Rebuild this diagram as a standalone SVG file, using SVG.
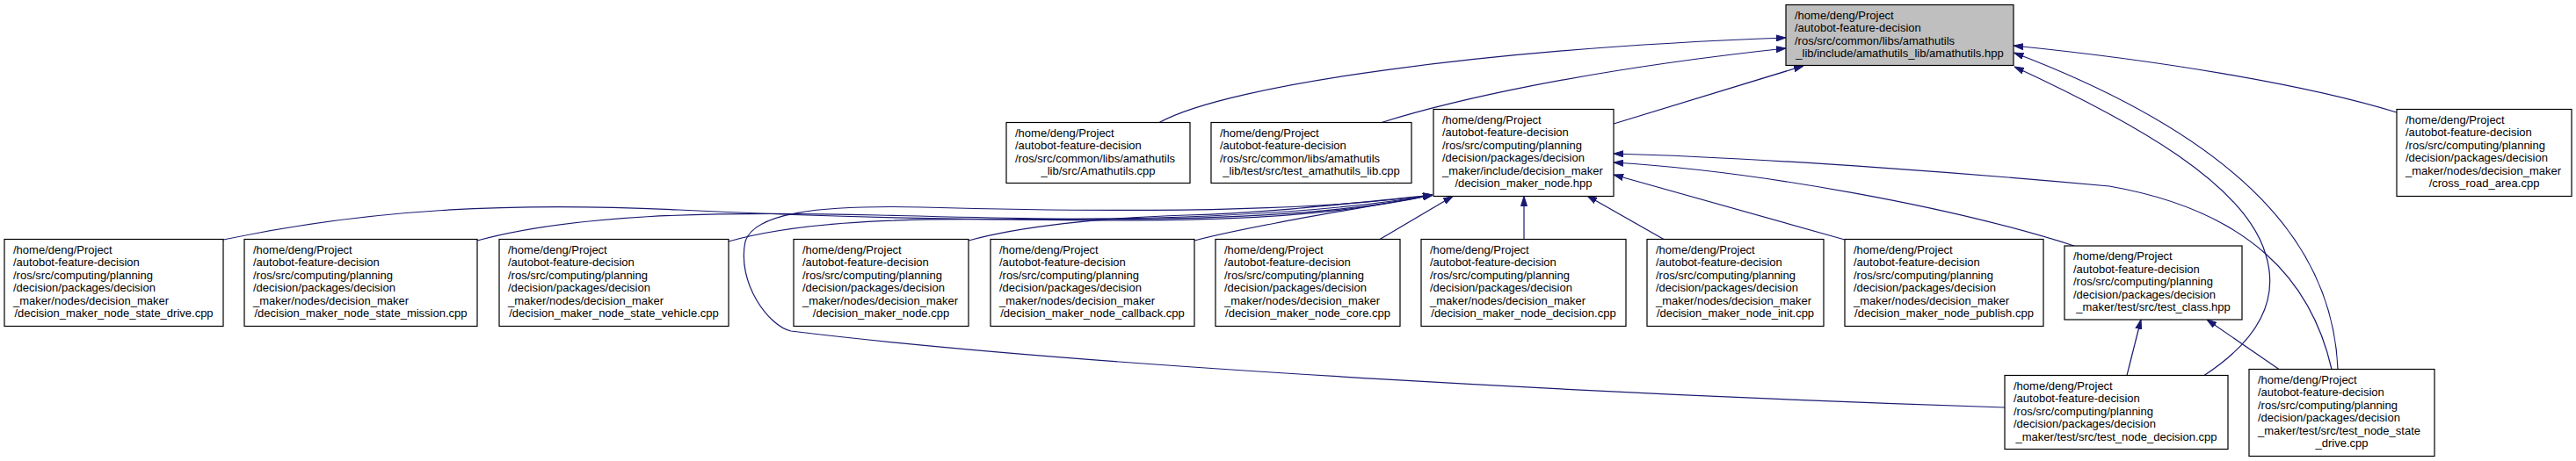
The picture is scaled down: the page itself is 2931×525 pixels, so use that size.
<svg xmlns="http://www.w3.org/2000/svg" width="2931" height="525" viewBox="0 0 2931 525">
<defs>
<style>
.node rect{fill:#ffffff;stroke:#000000;stroke-width:1.2}
.node.cur rect{fill:#bfbfbf}
.node text{font-family:"Liberation Sans",Arial,Helvetica,sans-serif;font-size:13px;fill:#000000}
.c{text-anchor:middle}
.edges path{fill:none;stroke:#191970;stroke-width:1.2;marker-end:url(#ah)}
</style>
<marker id="ah" markerUnits="userSpaceOnUse" markerWidth="11" markerHeight="8" refX="11" refY="4" orient="auto">
<path d="M0,0.5 L11,4 L0,7.5 z" fill="#191970" stroke="#191970" stroke-width="1"/>
</marker>
</defs>
<rect x="0" y="0" width="2931" height="525" fill="#ffffff"/>
<g class="edges" id="connectors">
<path d="M1319,139.5 C1400,95 1700,55 2032,43"/>
<path d="M1572,139.5 C1650,115 1800,80 2032,55"/>
<path d="M1836,141 L2052,75"/>
<path d="M2727,128 C2620,95 2450,68 2291,52"/>
<path d="M2508,427.5 C2565,390 2595,345 2578,290 C2555,210 2430,140 2292,76"/>
<path d="M2660,420.5 C2655,300 2580,170 2291.5,60"/>
<path d="M2360,280 C2220,235 2000,195 1836,185"/>
<path d="M2653,420.5 C2630,320 2560,240 2400,212 C2270,200 2020,180 1836,175"/>
<path d="M2099,273 L1836,199"/>
<path d="M1893,272.5 L1806,223"/>
<path d="M1734,272.5 L1734,223.5"/>
<path d="M1570,272.5 L1653,223.5"/>
<path d="M1359,274 C1420,258 1530,240 1630,222"/>
<path d="M1102,274 C1160,258 1250,248 1350,245 S1530,232 1630,222"/>
<path d="M829,275 C900,255 1000,248 1150,250 S1480,255 1630,222"/>
<path d="M543,274 C650,245 800,240 1000,245 S1460,258 1630,222"/>
<path d="M254,273 C420,238 580,230 772,239 C1000,250 1400,262 1630,222"/>
<path d="M2281,464 C1900,452 1250,420 900,377 C875,372 838,322 848,275 C858,243 930,233 1050,236 C1300,243 1500,240 1630,222"/>
<path d="M2420,427.5 L2436,364"/>
<path d="M2593,420.5 L2511,364"/>
</g>
<g id="node0" class="node cur">
<rect x="2032" y="5.5" width="259" height="69"/>
<text><tspan x="2042" y="21.8">/home/deng/Project</tspan><tspan x="2042" y="36.3">/autobot-feature-decision</tspan><tspan x="2042" y="50.8">/ros/src/common/libs/amathutils</tspan><tspan class="c" x="2161.5" y="65.3">_lib/include/amathutils_lib/amathutils.hpp</tspan></text>
</g>
<g id="node1" class="node">
<rect x="1145" y="139.5" width="209" height="69"/>
<text><tspan x="1155" y="155.8">/home/deng/Project</tspan><tspan x="1155" y="170.3">/autobot-feature-decision</tspan><tspan x="1155" y="184.8">/ros/src/common/libs/amathutils</tspan><tspan class="c" x="1249.5" y="199.3">_lib/src/Amathutils.cpp</tspan></text>
</g>
<g id="node2" class="node">
<rect x="1378" y="139.5" width="228" height="69"/>
<text><tspan x="1388" y="155.8">/home/deng/Project</tspan><tspan x="1388" y="170.3">/autobot-feature-decision</tspan><tspan x="1388" y="184.8">/ros/src/common/libs/amathutils</tspan><tspan class="c" x="1492" y="199.3">_lib/test/src/test_amathutils_lib.cpp</tspan></text>
</g>
<g id="node3" class="node">
<rect x="1631" y="124.5" width="205" height="99"/>
<text><tspan x="1641" y="140.8">/home/deng/Project</tspan><tspan x="1641" y="155.3">/autobot-feature-decision</tspan><tspan x="1641" y="169.8">/ros/src/computing/planning</tspan><tspan x="1641" y="184.3">/decision/packages/decision</tspan><tspan x="1641" y="198.8">_maker/include/decision_maker</tspan><tspan class="c" x="1733.5" y="213.3">/decision_maker_node.hpp</tspan></text>
</g>
<g id="node4" class="node">
<rect x="2727" y="124.5" width="199" height="99"/>
<text><tspan x="2737" y="140.8">/home/deng/Project</tspan><tspan x="2737" y="155.3">/autobot-feature-decision</tspan><tspan x="2737" y="169.8">/ros/src/computing/planning</tspan><tspan x="2737" y="184.3">/decision/packages/decision</tspan><tspan x="2737" y="198.8">_maker/nodes/decision_maker</tspan><tspan class="c" x="2826.5" y="213.3">/cross_road_area.cpp</tspan></text>
</g>
<g id="node5" class="node">
<rect x="5" y="272.5" width="249" height="99"/>
<text><tspan x="15" y="288.8">/home/deng/Project</tspan><tspan x="15" y="303.3">/autobot-feature-decision</tspan><tspan x="15" y="317.8">/ros/src/computing/planning</tspan><tspan x="15" y="332.3">/decision/packages/decision</tspan><tspan x="15" y="346.8">_maker/nodes/decision_maker</tspan><tspan class="c" x="129.5" y="361.3">/decision_maker_node_state_drive.cpp</tspan></text>
</g>
<g id="node6" class="node">
<rect x="278" y="272.5" width="265" height="99"/>
<text><tspan x="288" y="288.8">/home/deng/Project</tspan><tspan x="288" y="303.3">/autobot-feature-decision</tspan><tspan x="288" y="317.8">/ros/src/computing/planning</tspan><tspan x="288" y="332.3">/decision/packages/decision</tspan><tspan x="288" y="346.8">_maker/nodes/decision_maker</tspan><tspan class="c" x="410.5" y="361.3">/decision_maker_node_state_mission.cpp</tspan></text>
</g>
<g id="node7" class="node">
<rect x="568" y="272.5" width="261" height="99"/>
<text><tspan x="578" y="288.8">/home/deng/Project</tspan><tspan x="578" y="303.3">/autobot-feature-decision</tspan><tspan x="578" y="317.8">/ros/src/computing/planning</tspan><tspan x="578" y="332.3">/decision/packages/decision</tspan><tspan x="578" y="346.8">_maker/nodes/decision_maker</tspan><tspan class="c" x="698.5" y="361.3">/decision_maker_node_state_vehicle.cpp</tspan></text>
</g>
<g id="node8" class="node">
<rect x="903" y="272.5" width="199" height="99"/>
<text><tspan x="913" y="288.8">/home/deng/Project</tspan><tspan x="913" y="303.3">/autobot-feature-decision</tspan><tspan x="913" y="317.8">/ros/src/computing/planning</tspan><tspan x="913" y="332.3">/decision/packages/decision</tspan><tspan x="913" y="346.8">_maker/nodes/decision_maker</tspan><tspan class="c" x="1002.5" y="361.3">/decision_maker_node.cpp</tspan></text>
</g>
<g id="node9" class="node">
<rect x="1127" y="272.5" width="232" height="99"/>
<text><tspan x="1137" y="288.8">/home/deng/Project</tspan><tspan x="1137" y="303.3">/autobot-feature-decision</tspan><tspan x="1137" y="317.8">/ros/src/computing/planning</tspan><tspan x="1137" y="332.3">/decision/packages/decision</tspan><tspan x="1137" y="346.8">_maker/nodes/decision_maker</tspan><tspan class="c" x="1243" y="361.3">/decision_maker_node_callback.cpp</tspan></text>
</g>
<g id="node10" class="node">
<rect x="1383" y="272.5" width="210" height="99"/>
<text><tspan x="1393" y="288.8">/home/deng/Project</tspan><tspan x="1393" y="303.3">/autobot-feature-decision</tspan><tspan x="1393" y="317.8">/ros/src/computing/planning</tspan><tspan x="1393" y="332.3">/decision/packages/decision</tspan><tspan x="1393" y="346.8">_maker/nodes/decision_maker</tspan><tspan class="c" x="1488" y="361.3">/decision_maker_node_core.cpp</tspan></text>
</g>
<g id="node11" class="node">
<rect x="1617" y="272.5" width="233" height="99"/>
<text><tspan x="1627" y="288.8">/home/deng/Project</tspan><tspan x="1627" y="303.3">/autobot-feature-decision</tspan><tspan x="1627" y="317.8">/ros/src/computing/planning</tspan><tspan x="1627" y="332.3">/decision/packages/decision</tspan><tspan x="1627" y="346.8">_maker/nodes/decision_maker</tspan><tspan class="c" x="1733.5" y="361.3">/decision_maker_node_decision.cpp</tspan></text>
</g>
<g id="node12" class="node">
<rect x="1874" y="272.5" width="201" height="99"/>
<text><tspan x="1884" y="288.8">/home/deng/Project</tspan><tspan x="1884" y="303.3">/autobot-feature-decision</tspan><tspan x="1884" y="317.8">/ros/src/computing/planning</tspan><tspan x="1884" y="332.3">/decision/packages/decision</tspan><tspan x="1884" y="346.8">_maker/nodes/decision_maker</tspan><tspan class="c" x="1974.5" y="361.3">/decision_maker_node_init.cpp</tspan></text>
</g>
<g id="node13" class="node">
<rect x="2099" y="272.5" width="226" height="99"/>
<text><tspan x="2109" y="288.8">/home/deng/Project</tspan><tspan x="2109" y="303.3">/autobot-feature-decision</tspan><tspan x="2109" y="317.8">/ros/src/computing/planning</tspan><tspan x="2109" y="332.3">/decision/packages/decision</tspan><tspan x="2109" y="346.8">_maker/nodes/decision_maker</tspan><tspan class="c" x="2212" y="361.3">/decision_maker_node_publish.cpp</tspan></text>
</g>
<g id="node14" class="node">
<rect x="2349" y="280" width="202" height="84"/>
<text><tspan x="2359" y="296.3">/home/deng/Project</tspan><tspan x="2359" y="310.8">/autobot-feature-decision</tspan><tspan x="2359" y="325.3">/ros/src/computing/planning</tspan><tspan x="2359" y="339.8">/decision/packages/decision</tspan><tspan class="c" x="2450" y="354.3">_maker/test/src/test_class.hpp</tspan></text>
</g>
<g id="node15" class="node">
<rect x="2281" y="427.5" width="254" height="84"/>
<text><tspan x="2291" y="443.8">/home/deng/Project</tspan><tspan x="2291" y="458.3">/autobot-feature-decision</tspan><tspan x="2291" y="472.8">/ros/src/computing/planning</tspan><tspan x="2291" y="487.3">/decision/packages/decision</tspan><tspan class="c" x="2408" y="501.8">_maker/test/src/test_node_decision.cpp</tspan></text>
</g>
<g id="node16" class="node">
<rect x="2559" y="420.5" width="211" height="99"/>
<text><tspan x="2569" y="436.8">/home/deng/Project</tspan><tspan x="2569" y="451.3">/autobot-feature-decision</tspan><tspan x="2569" y="465.8">/ros/src/computing/planning</tspan><tspan x="2569" y="480.3">/decision/packages/decision</tspan><tspan x="2569" y="494.8">_maker/test/src/test_node_state</tspan><tspan class="c" x="2664.5" y="509.3">_drive.cpp</tspan></text>
</g>
</svg>
